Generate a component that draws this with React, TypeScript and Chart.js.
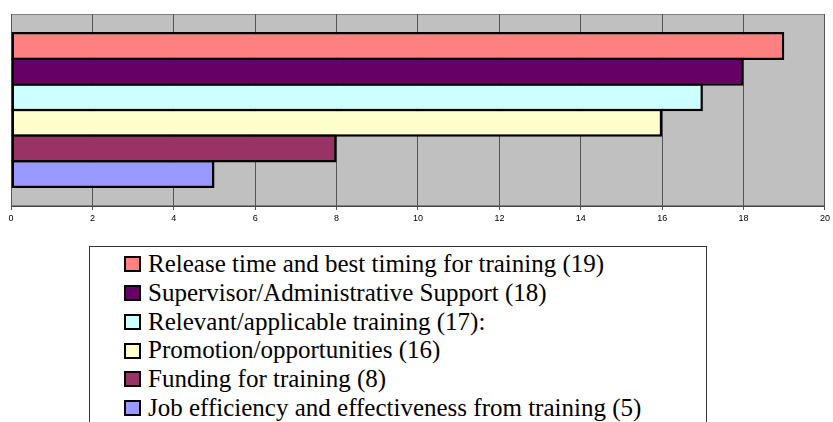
import React, { useEffect, useRef } from "react";
import { Chart, registerables } from "chart.js";

Chart.register(...registerables);

const seriesLabels = [
  "Release time and best timing for training (19)",
  "Supervisor/Administrative Support (18)",
  "Relevant/applicable training (17):",
  "Promotion/opportunities (16)",
  "Funding for training (8)",
  "Job efficiency and effectiveness from training (5)",
];
const seriesValues = [19, 18, 17, 16, 8, 5];
const seriesColors = ["#FF8080", "#660066", "#CCFFFF", "#FFFFCC", "#993366", "#9999FF"];
const categories = [""];
const xMin = 0;
const xMax = 20;
const xStep = 2;

const plotBg = {
  id: "plotBg",
  beforeDraw(chart: any) {
    const { ctx, chartArea } = chart;
    ctx.save();
    ctx.fillStyle = "#C0C0C0";
    ctx.fillRect(chartArea.left, chartArea.top, chartArea.right - chartArea.left, chartArea.bottom - chartArea.top);
    ctx.strokeStyle = "#808080";
    ctx.lineWidth = 1;
    ctx.strokeRect(chartArea.left + 0.5, chartArea.top + 0.5, chartArea.right - chartArea.left - 1, chartArea.bottom - chartArea.top - 1);
    ctx.restore();
  },
};

const serifFamily = '"Liberation Serif", serif';

export default function App() {
  const ref = useRef<HTMLCanvasElement | null>(null);
  useEffect(() => {
    if (!ref.current) return;
    const chart = new Chart(ref.current, {
      type: "bar",
      data: {
        labels: categories,
        datasets: seriesLabels.map((label, i) => ({
          label,
          data: [seriesValues[i]],
          backgroundColor: seriesColors[i],
          borderColor: "#000000",
          borderWidth: 2.5,
          borderSkipped: false,
          categoryPercentage: 0.8,
          barPercentage: 1.098,
        })),
      },
      options: {
        indexAxis: "y",
        animation: false,
        responsive: false,
        maintainAspectRatio: false,
        layout: { padding: { left: 11, right: 6, top: 14, bottom: 0 } },
        plugins: { legend: { display: false }, tooltip: { enabled: false } },
        scales: {
          y: { display: false },
          x: {
            min: xMin,
            max: xMax,
            ticks: {
              stepSize: xStep,
              padding: 3,
              color: "#000000",
              font: { family: '"Liberation Sans", Arial, sans-serif', size: 9 },
            },
            grid: { color: "#555555", lineWidth: 1, tickLength: 4, drawOnChartArea: true },
            border: { color: "#444444", width: 1 },
            afterFit(scale: any) {
              scale.height = 24;
            },
          },
        },
      },
      plugins: [plotBg],
    } as any);
    return () => chart.destroy();
  }, []);

  const rowH = 28.8;
  return (
    <div style={{ position: "fixed", left: 0, top: 0, width: 833, height: 422, background: "#fff", overflow: "hidden" }}>
      <canvas ref={ref} width={833} height={230} style={{ position: "absolute", left: 0, top: 0, width: 833, height: 230 }} />
      <div
        style={{
          position: "absolute",
          left: 89,
          top: 246,
          width: 618,
          height: 200,
          border: "1px solid #333",
          boxSizing: "border-box",
        }}
      >
        {seriesLabels.map((label, i) => (
          <div
            key={i}
            style={{
              position: "absolute",
              left: 0,
              top: 2.9 + i * rowH,
              height: rowH,
              display: "flex",
              alignItems: "center",
              whiteSpace: "nowrap",
            }}
          >
            <span
              style={{
                display: "inline-block",
                marginLeft: 34,
                width: 17,
                height: 16,
                boxSizing: "border-box",
                border: "2px solid #000",
                background: seriesColors[i],
              }}
            />
            <span
              style={{
                marginLeft: 7,
                fontFamily: serifFamily,
                fontSize: 25,
                color: "#000",
                lineHeight: "28.8px",
              }}
            >
              {label}
            </span>
          </div>
        ))}
      </div>
    </div>
  );
}
